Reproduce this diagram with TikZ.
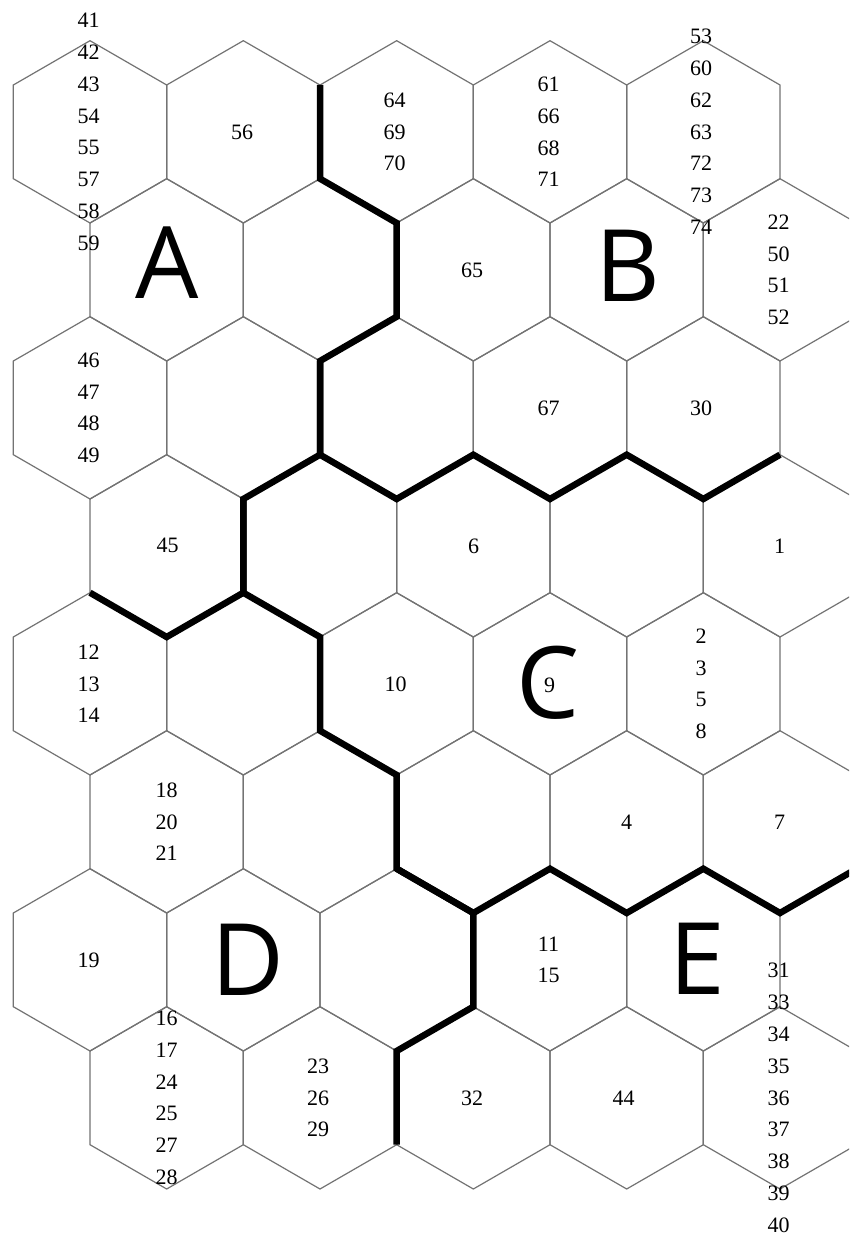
\documentclass[tikz,border=0pt]{standalone}
\usepackage{fontspec}
\setmainfont{Liberation Serif}
\newfontfamily\regionfont{Open Sans}
\definecolor{edgegray}{RGB}{115,115,115}
\tikzset{
  thinedge/.style={draw=edgegray, line width=1.2pt, line join=miter},
  border/.style={draw=black, line width=6.5pt, line join=miter},
  lbl/.style={font=\fontsize{22}{31.8}\selectfont, align=center, inner sep=0pt},
  region/.style={font=\regionfont\fontsize{100}{100}\selectfont, inner sep=0pt},
  hexcell/.pic={\draw[thinedge] (-76.667,-46.85) -- (0,-91.15) -- (76.667,-46.85) -- (76.667,46.85) -- (0,91.15) -- (-76.667,46.85) -- cycle;}
}
\begin{document}
\begin{tikzpicture}[x=1pt,y=-1pt]
\useasboundingbox (0,0) rectangle (849,1238);
\fill[white] (0,0) rectangle (849,1238);
\begin{scope}
\clip (0,0) rectangle (849,1238);
% hex grid
\foreach \r in {1,3,5,7} \foreach \k in {0,...,4}
  \pic at ({90+153.333*\k},{131.85+138*(\r-1)}) {hexcell};
\foreach \r in {2,4,6,8} \foreach \k in {0,...,4}
  \pic at ({166.667+153.333*\k},{131.85+138*(\r-1)}) {hexcell};
% border vertices
\coordinate (v4-1) at (320,85);
\coordinate (v4-2) at (320,178.7);
\coordinate (v5-3) at (396.667,223);
\coordinate (v5-4) at (396.667,316.7);
\coordinate (v4-5) at (320,361);
\coordinate (v4-6) at (320,454.7);
\coordinate (v3-7) at (243.333,499);
\coordinate (v3-8) at (243.333,592.7);
\coordinate (v4-9) at (320,637);
\coordinate (v4-10) at (320,730.7);
\coordinate (v5-11) at (396.667,775);
\coordinate (v5-12) at (396.667,868.7);
\coordinate (v6-13) at (473.333,913);
\coordinate (v6-14) at (473.333,1006.7);
\coordinate (v5-15) at (396.667,1051);
\coordinate (v5-16) at (396.667,1144.7);
\coordinate (v5-7) at (396.667,499);
\coordinate (v6-6) at (473.333,454.7);
\coordinate (v7-7) at (550,499);
\coordinate (v8-6) at (626.667,454.7);
\coordinate (v9-7) at (703.333,499);
\coordinate (v10-6) at (780,454.7);
\coordinate (v2-9) at (166.667,637);
\coordinate (v1-8) at (90,592.7);
\coordinate (v7-12) at (550,868.7);
\coordinate (v8-13) at (626.667,913);
\coordinate (v9-12) at (703.333,868.7);
\coordinate (v10-13) at (780,913);
\coordinate (v11-12) at (856.667,868.7);
% region borders
\draw[border] (v4-1) -- (v4-2) -- (v5-3) -- (v5-4) -- (v4-5) -- (v4-6) -- (v3-7) -- (v3-8) -- (v4-9) -- (v4-10) -- (v5-11) -- (v5-12) -- (v6-13) -- (v6-14) -- (v5-15) -- (v5-16);
\draw[border] (v4-5) -- (v4-6) -- (v5-7) -- (v6-6) -- (v7-7) -- (v8-6) -- (v9-7) -- (v10-6);
\draw[border] (v3-7) -- (v3-8) -- (v2-9) -- (v1-8);
\draw[border] (v5-12) -- (v6-13) -- (v7-12) -- (v8-13) -- (v9-12) -- (v10-13) -- (v11-12);
\end{scope}
% labels row 1
\node[lbl] (h11) at (88.5,131.85) {41\\42\\43\\54\\55\\57\\58\\59};
\node[lbl] (h12) at (242,131.85) {56};
\node[lbl] (h13) at (394.5,131.85) {64\\69\\70};
\node[lbl] (h14) at (548.5,131.85) {61\\66\\68\\71};
\node[lbl] (h15) at (701,131.85) {53\\60\\62\\63\\72\\73\\74};
% row 2
\node[region] (regA) at (167,263) {A};
\node[lbl] (h23) at (472,269.85) {65};
\node[region] (regB) at (627.5,266) {B};
\node[lbl] (h25) at (778.5,269.85) {22\\50\\51\\52};
% row 3
\node[lbl] (h31) at (88.5,407.85) {46\\47\\48\\49};
\node[lbl] (h34) at (548.5,407.85) {67};
\node[lbl] (h35) at (701,407.85) {30};
% row 4
\node[lbl] (h41) at (167.5,545.85) {45};
\node[lbl] (h43) at (473.5,545.85) {6};
\node[lbl] (h45) at (779.5,545.85) {1};
% row 5
\node[lbl] (h51) at (88.5,683.85) {12\\13\\14};
\node[lbl] (h53) at (395.5,683.85) {10};
\node[region] (regC) at (548,683) {C};
\node[lbl] (h54) at (549.5,685) {9};
\node[lbl] (h55) at (701,683.85) {2\\3\\5\\8};
% row 6
\node[lbl] (h61) at (166.5,821.85) {18\\20\\21};
\node[lbl] (h64) at (626.5,821.85) {4};
\node[lbl] (h65) at (779.5,821.85) {7};
% row 7
\node[lbl] (h71) at (88.5,959.85) {19};
\node[region] (regD) at (248,960) {D};
\node[lbl] (h74) at (548.5,959.85) {11\\15};
\node[region] (regE) at (697,959) {E};
% row 8
\node[lbl] (h81) at (166.5,1097.85) {16\\17\\24\\25\\27\\28};
\node[lbl] (h82) at (318,1097.85) {23\\26\\29};
\node[lbl] (h83) at (472,1097.85) {32};
\node[lbl] (h84) at (623.5,1097.85) {44};
\node[lbl] (h85) at (778.5,1097.85) {31\\33\\34\\35\\36\\37\\38\\39\\40};
\end{tikzpicture}
\end{document}
